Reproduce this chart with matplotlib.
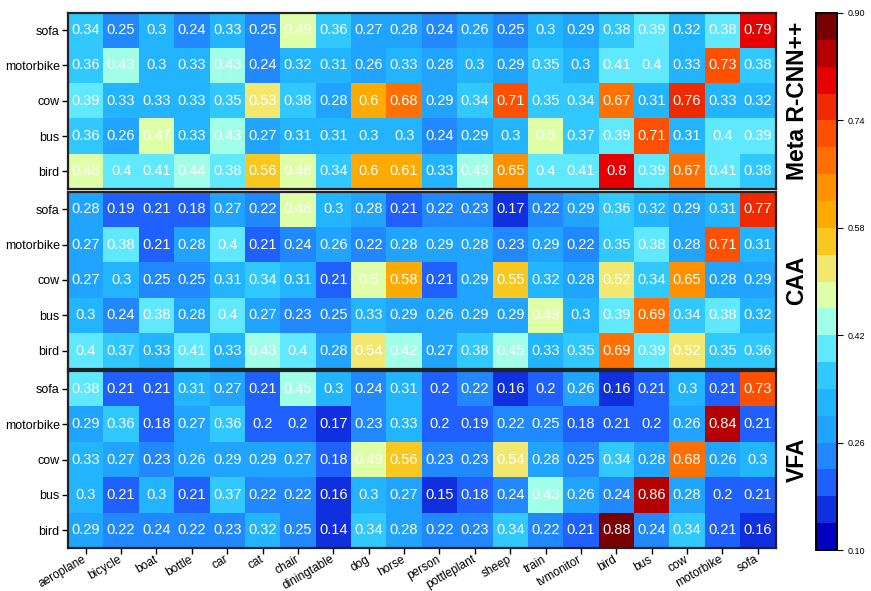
import numpy as np
import matplotlib
matplotlib.use("Agg")
import matplotlib.pyplot as plt
from matplotlib.colors import ListedColormap, BoundaryNorm

plt.rcParams['font.family'] = ['Liberation Sans', 'DejaVu Sans']

columns = ["aeroplane", "bicycle", "boat", "bottle", "car", "cat", "chair",
           "diningtable", "dog", "horse", "person", "pottleplant", "sheep",
           "train", "tvmonitor", "bird", "bus", "cow", "motorbike", "sofa"]
rows = ["sofa", "motorbike", "cow", "bus", "bird"]
methods = ["Meta R-CNN++", "CAA", "VFA"]

# values as printed; a third decimal is used where the cell colour shows
# the underlying value sits just below the printed (rounded) value
meta_rcnn = [
    [0.34, 0.25, 0.3, 0.24, 0.33, 0.25, 0.49, 0.36, 0.27, 0.28, 0.24, 0.26, 0.25, 0.3, 0.29, 0.378, 0.39, 0.32, 0.38, 0.79],
    [0.36, 0.43, 0.3, 0.33, 0.43, 0.24, 0.32, 0.31, 0.26, 0.33, 0.28, 0.3, 0.29, 0.35, 0.3, 0.41, 0.4, 0.33, 0.73, 0.378],
    [0.39, 0.33, 0.33, 0.33, 0.35, 0.53, 0.378, 0.28, 0.6, 0.68, 0.29, 0.34, 0.71, 0.35, 0.34, 0.67, 0.31, 0.76, 0.33, 0.32],
    [0.36, 0.26, 0.47, 0.33, 0.43, 0.27, 0.31, 0.31, 0.3, 0.3, 0.24, 0.29, 0.3, 0.498, 0.37, 0.39, 0.71, 0.31, 0.4, 0.39],
    [0.48, 0.4, 0.41, 0.44, 0.38, 0.56, 0.46, 0.34, 0.6, 0.61, 0.33, 0.43, 0.65, 0.4, 0.41, 0.8, 0.39, 0.67, 0.41, 0.378],
]
caa = [
    [0.28, 0.19, 0.21, 0.18, 0.27, 0.22, 0.48, 0.3, 0.28, 0.21, 0.22, 0.23, 0.17, 0.22, 0.29, 0.36, 0.32, 0.29, 0.31, 0.77],
    [0.27, 0.38, 0.21, 0.28, 0.4, 0.21, 0.24, 0.26, 0.22, 0.28, 0.29, 0.28, 0.23, 0.29, 0.22, 0.35, 0.38, 0.28, 0.71, 0.31],
    [0.27, 0.3, 0.25, 0.25, 0.31, 0.34, 0.31, 0.21, 0.498, 0.58, 0.21, 0.29, 0.55, 0.32, 0.28, 0.52, 0.34, 0.65, 0.28, 0.29],
    [0.3, 0.24, 0.38, 0.28, 0.4, 0.27, 0.23, 0.25, 0.33, 0.29, 0.26, 0.29, 0.29, 0.49, 0.3, 0.39, 0.69, 0.34, 0.38, 0.32],
    [0.4, 0.37, 0.33, 0.41, 0.33, 0.43, 0.4, 0.28, 0.538, 0.42, 0.27, 0.378, 0.45, 0.33, 0.35, 0.69, 0.39, 0.52, 0.35, 0.36],
]
vfa = [
    [0.38, 0.21, 0.21, 0.31, 0.27, 0.21, 0.45, 0.3, 0.24, 0.31, 0.2, 0.22, 0.16, 0.2, 0.26, 0.16, 0.21, 0.3, 0.21, 0.73],
    [0.29, 0.36, 0.18, 0.27, 0.36, 0.2, 0.2, 0.17, 0.23, 0.33, 0.2, 0.19, 0.22, 0.25, 0.18, 0.21, 0.2, 0.26, 0.84, 0.21],
    [0.33, 0.27, 0.23, 0.26, 0.29, 0.29, 0.27, 0.18, 0.49, 0.56, 0.23, 0.23, 0.538, 0.28, 0.25, 0.34, 0.28, 0.68, 0.26, 0.3],
    [0.3, 0.21, 0.3, 0.21, 0.37, 0.22, 0.22, 0.16, 0.3, 0.27, 0.15, 0.18, 0.24, 0.43, 0.26, 0.24, 0.858, 0.28, 0.2, 0.21],
    [0.29, 0.22, 0.24, 0.22, 0.23, 0.32, 0.25, 0.14, 0.34, 0.28, 0.22, 0.23, 0.34, 0.22, 0.21, 0.88, 0.24, 0.34, 0.21, 0.16],
]
panels = [meta_rcnn, caa, vfa]
cbar_ticks = [0.10, 0.26, 0.42, 0.58, 0.74, 0.90]

palette = ["#0000c0", "#1030e0", "#2060ff", "#2288ff", "#20a4ff", "#22b4ff",
           "#30c8ff", "#60e8ff", "#a0ffe6", "#deffa8", "#f2e870", "#f8c820",
           "#ffaa00", "#ff9000", "#ff7000", "#ff5000", "#f02a00", "#e60000",
           "#b40000", "#780000"]
cmap = ListedColormap(palette)
bounds = np.round(np.linspace(0.10, 0.90, 21), 2)
norm = BoundaryNorm(bounds, cmap.N)

fig = plt.figure(figsize=(8.71, 5.91), dpi=100)
W, H = 871, 591
left, right = 68, 775.5
tops = [12.5, 191.5, 371]
bots = [189, 368.5, 548]

for k, (data, name) in enumerate(zip(panels, methods)):
    arr = np.array(data)
    ax = fig.add_axes([left / W, 1 - bots[k] / H, (right - left) / W, (bots[k] - tops[k]) / H])
    mesh = ax.pcolormesh(np.arange(len(columns) + 1), np.arange(len(rows) + 1), arr,
                         cmap=cmap, norm=norm)
    ax.set_xlim(0, len(columns))
    ax.set_ylim(len(rows), 0)
    for i in range(len(rows)):
        for j in range(len(columns)):
            ax.text(j + 0.5, i + 0.5, f"{round(arr[i, j], 2):g}", ha="center", va="center",
                    color="white", fontsize=10.5)
    ax.set_yticks(np.arange(len(rows)) + 0.5)
    ax.set_yticklabels(rows, fontsize=9)
    ax.tick_params(axis="y", length=4, width=1, pad=2, direction="out")
    if k == 2:
        ax.set_xticks(np.arange(len(columns)) + 0.5)
        ax.set_xticklabels(columns, rotation=30, ha="right", va="center",
                           rotation_mode="anchor", fontsize=8.6)
        ax.tick_params(axis="x", length=4, width=1, pad=3.5, direction="out")
    else:
        ax.set_xticks([])
    for s in ax.spines.values():
        s.set_linewidth(1.6)
        s.set_color("#222222")
    fig.text(797 / W, 1 - (tops[k] + bots[k]) / 2 / H, name, rotation=90,
             ha="center", va="center", fontsize=16.5, fontweight="bold")

cax = fig.add_axes([816 / W, 1 - 550 / H, 21 / W, (550 - 13) / H])
cb = fig.colorbar(mesh, cax=cax, ticks=cbar_ticks, spacing="proportional")
cb.ax.minorticks_off()
cb.ax.set_yticks(cbar_ticks)
cb.ax.set_yticklabels([f"{t:.2f}" for t in cbar_ticks], fontsize=6.5)
cb.ax.tick_params(length=4, width=0.8)
cb.outline.set_linewidth(1.4)

fig.savefig("out.png", dpi=100)
